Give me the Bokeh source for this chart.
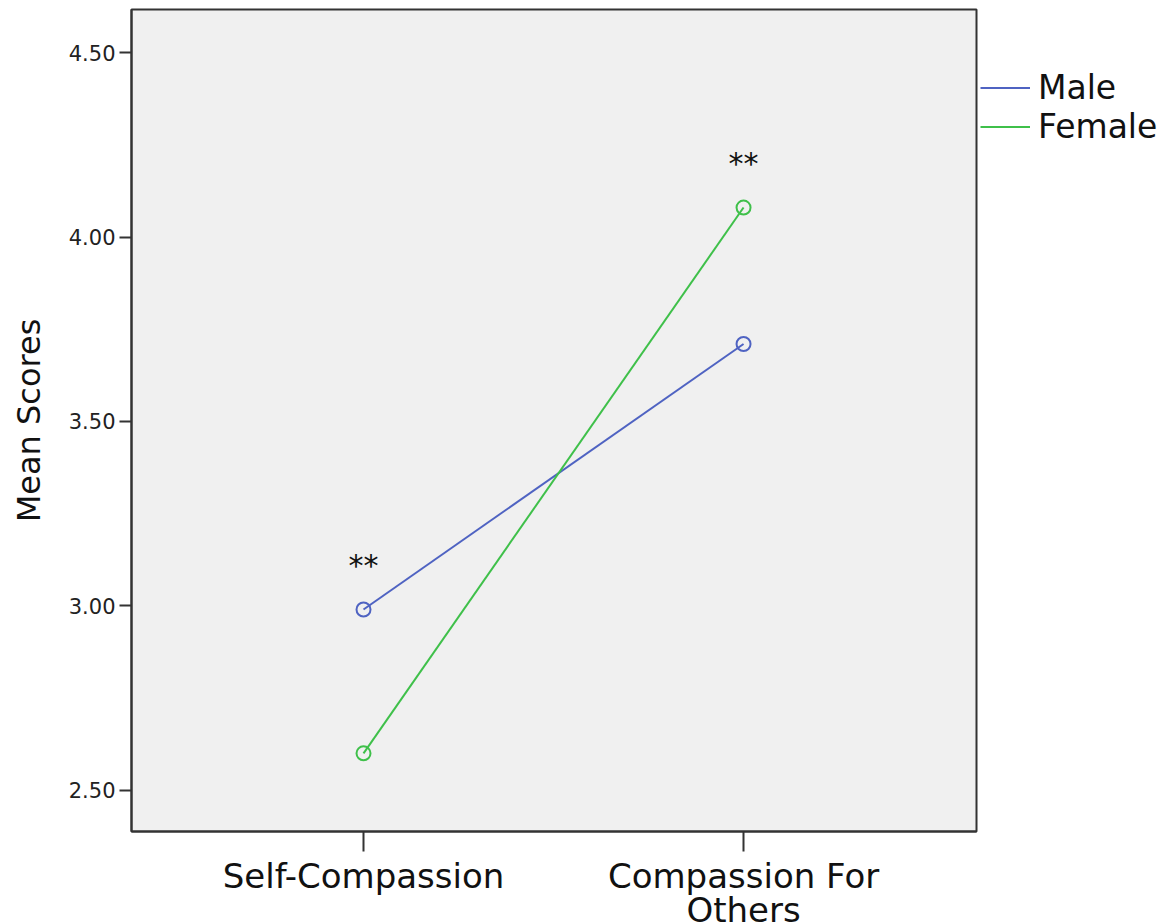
from bokeh.plotting import figure
from bokeh.models import (ColumnDataSource, Range1d, FixedTicker, NumeralTickFormatter,
                          Legend, LegendItem)
from bokeh.core.properties import value
from bokeh.embed import file_html
from bokeh.resources import INLINE

categories = ["Self-Compassion", "Compassion For\nOthers"]
male = [2.99, 3.71]
female = [2.60, 4.08]
y_ticks = [2.50, 3.00, 3.50, 4.00, 4.50]
star_cat_index = [0, 1]
star_series = ["Male", "Female"]
star_text = ["**", "**"]

FONT = "DejaVu Sans"
BLUE = "#4f63c2"
GREEN = "#3fc04a"

xs = list(range(len(categories)))
series_vals = {"Male": male, "Female": female}
star_y = [series_vals[s][i] for s, i in zip(star_series, star_cat_index)]

p = figure(frame_width=845, frame_height=822, output_backend="svg", toolbar_location=None,
           x_range=Range1d(-0.6105, 1.613), y_range=Range1d(2.388, 4.617),
           min_border_left=131, min_border_top=9, min_border_bottom=92, min_border_right=0)

p.background_fill_color = "#f0f0f0"
p.border_fill_color = "white"
p.outline_line_color = "#333333"
p.outline_line_width = 2
p.grid.visible = False

# y axis
p.yaxis.ticker = FixedTicker(ticks=y_ticks)
p.yaxis.formatter = NumeralTickFormatter(format="0.00")
p.yaxis.minor_tick_line_color = None
p.yaxis.major_tick_in = 0
p.yaxis.major_tick_out = 12
p.yaxis.major_tick_line_color = "#333333"
p.yaxis.major_tick_line_width = 2
p.yaxis.axis_line_color = "#333333"
p.yaxis.axis_line_width = 2
p.yaxis.major_label_text_font = FONT
p.yaxis.major_label_text_font_size = "21px"
p.yaxis.major_label_text_color = "#222222"
p.yaxis.major_label_standoff = 4
p.yaxis.axis_label = "Mean Scores"
p.yaxis.axis_label_text_font = FONT
p.yaxis.axis_label_text_font_size = "32px"
p.yaxis.axis_label_text_font_style = "normal"
p.yaxis.axis_label_text_color = "#111111"
p.yaxis.axis_label_standoff = 18

# x axis
p.xaxis.ticker = FixedTicker(ticks=xs)
p.xaxis.major_label_overrides = {i: c for i, c in zip(xs, categories)}
p.xaxis.minor_tick_line_color = None
p.xaxis.major_tick_in = 0
p.xaxis.major_tick_out = 20
p.xaxis.major_tick_line_color = "#333333"
p.xaxis.major_tick_line_width = 2
p.xaxis.axis_line_color = "#333333"
p.xaxis.axis_line_width = 2
p.xaxis.major_label_text_font = FONT
p.xaxis.major_label_text_font_size = "34px"
p.xaxis.major_label_text_color = "#111111"
p.xaxis.major_label_text_line_height = 0.85
p.xaxis.major_label_standoff = 4

src_m = ColumnDataSource(dict(x=xs, y=male))
src_f = ColumnDataSource(dict(x=xs, y=female))

lm = p.line("x", "y", source=src_m, line_color=BLUE, line_width=2)
lf = p.line("x", "y", source=src_f, line_color=GREEN, line_width=2)
p.scatter("x", "y", source=src_m, marker="circle", size=14, fill_color=None,
          line_color=BLUE, line_width=2)
p.scatter("x", "y", source=src_f, marker="circle", size=14, fill_color=None,
          line_color=GREEN, line_width=2)

src_s = ColumnDataSource(dict(x=star_cat_index, y=star_y, t=star_text))
p.text("x", "y", text="t", source=src_s, text_font=value(FONT), text_font_size="30px",
       text_align="center", text_baseline="middle", y_offset=-44, text_color="#111111")

legend = Legend(items=[LegendItem(label="Male", renderers=[lm]),
                       LegendItem(label="Female", renderers=[lf])],
                location=(4, 685), orientation="vertical")
legend.border_line_color = None
legend.background_fill_alpha = 0
legend.margin = 0
legend.padding = 4
legend.spacing = 0
legend.glyph_width = 50
legend.glyph_height = 39
legend.label_height = 39
legend.label_standoff = 8
legend.label_text_font = FONT
legend.label_text_font_size = "33px"
legend.label_text_color = "#111111"
p.add_layout(legend, "right")

open("out.html", "w").write(file_html(p, INLINE))
